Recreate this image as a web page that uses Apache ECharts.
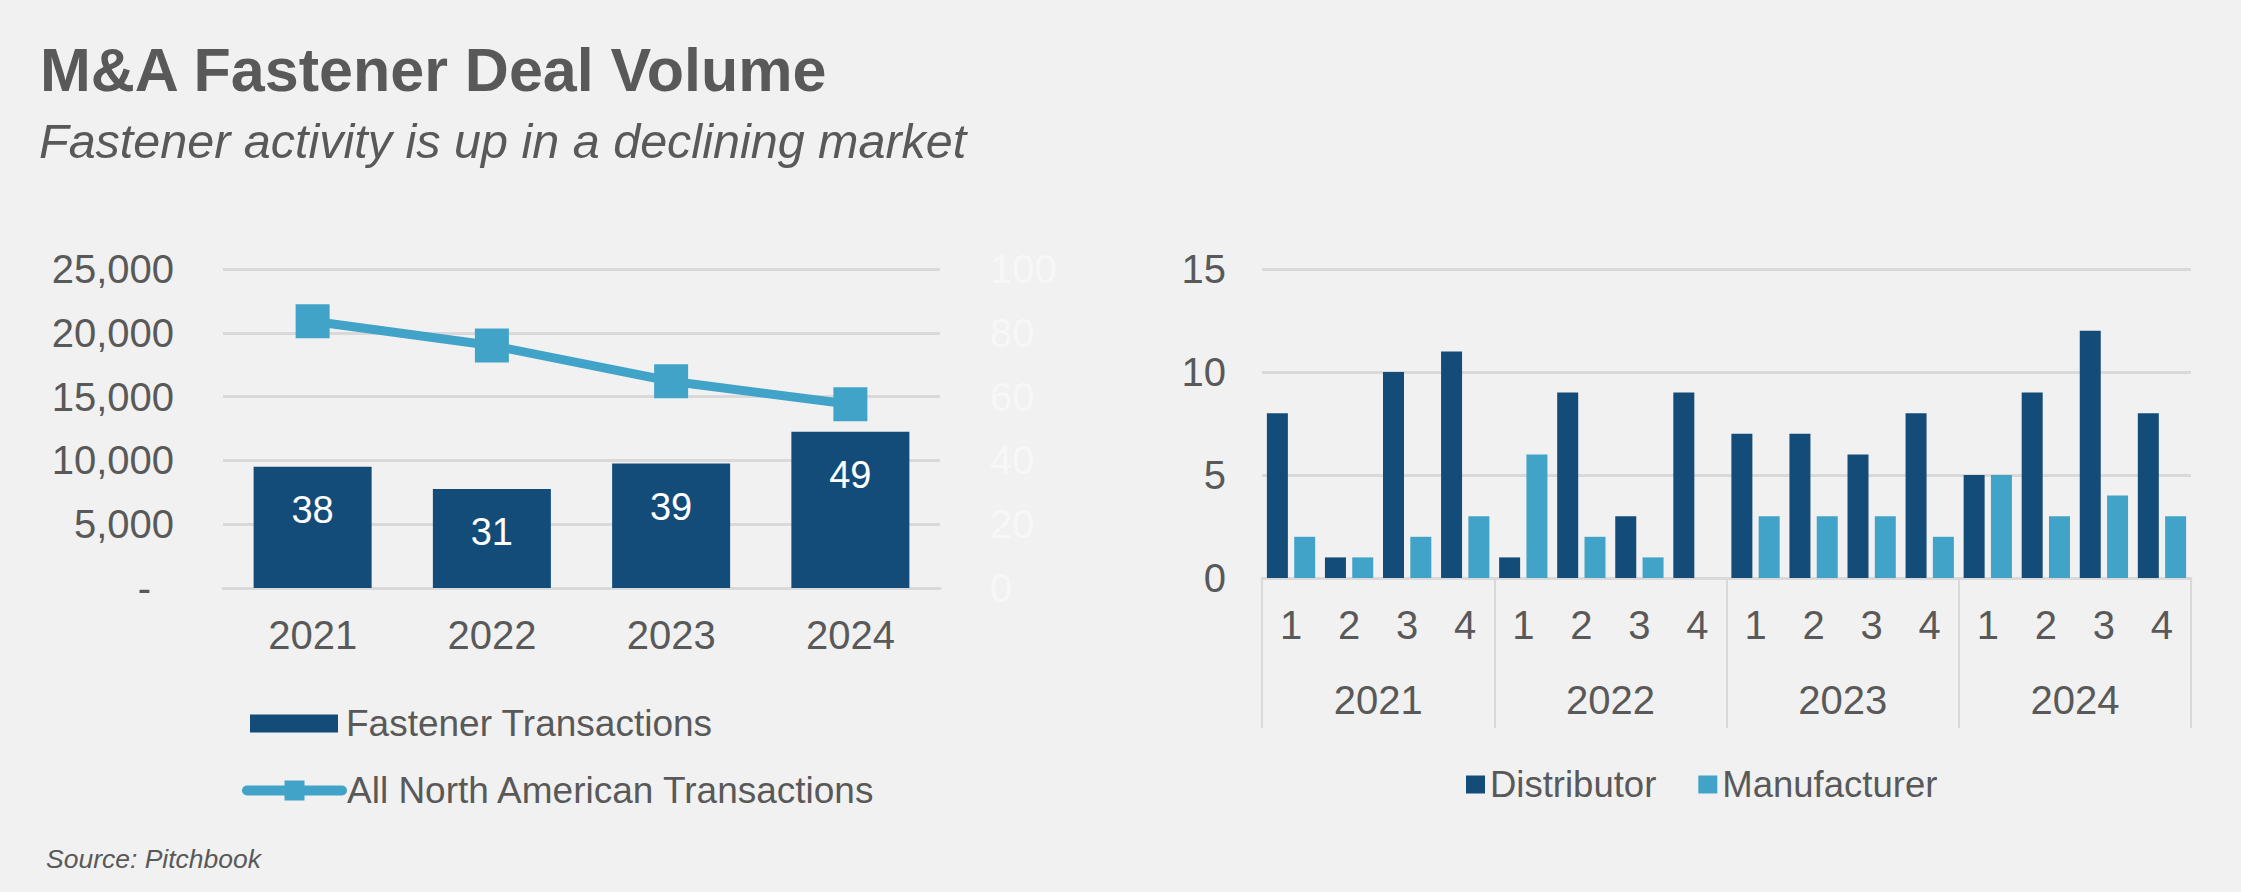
<!DOCTYPE html>
<html>
<head>
<meta charset="utf-8">
<script src="https://cdn.jsdelivr.net/npm/echarts@6/dist/echarts.min.js"></script>
<style>
html,body{margin:0;padding:0;background:#f1f1f1;}
#c{width:2241px;height:892px;}
</style>
</head>
<body>
<div id="c"></div>
<script>
// ---- data ----
const years = ['2021', '2022', '2023', '2024'];
const fastenerTransactions = [38, 31, 39, 49];
const allNorthAmerican = [20900, 19000, 16200, 14400];
const quarterKeys = ['2021-1','2021-2','2021-3','2021-4','2022-1','2022-2','2022-3','2022-4',
                     '2023-1','2023-2','2023-3','2023-4','2024-1','2024-2','2024-3','2024-4'];
const distributor = [8, 1, 10, 11, 1, 9, 3, 9, 7, 7, 6, 8, 5, 9, 12, 8];
const manufacturer = [2, 1, 2, 3, 6, 2, 1, 0, 3, 3, 3, 2, 5, 3, 4, 3];

const DARK = '#134c78';
const LIGHT = '#42a3c9';
const TXT = '#595959';
const GRID = '#d9d9d9';
const FONT = '"Liberation Sans", Arial, sans-serif';

const chart = echarts.init(document.getElementById('c'), null, {renderer: 'svg'});
chart.setOption({
  backgroundColor: '#f1f1f1',
  textStyle: {fontFamily: FONT, color: TXT},
  animation: false,
  title: [
    {text: 'M&A Fastener Deal Volume', left: 35, top: 34,
     textStyle: {fontFamily: FONT, fontSize: 61, fontWeight: 'bold', color: TXT}},
    {text: 'Fastener activity is up in a declining market', left: 34, top: 112,
     textStyle: {fontFamily: FONT, fontSize: 48.5, fontWeight: 'normal', fontStyle: 'italic', color: TXT}},
    {text: 'Source: Pitchbook', left: 41, top: 840,
     textStyle: {fontFamily: FONT, fontSize: 26.5, fontWeight: 'normal', fontStyle: 'italic', color: TXT}}
  ],
  legend: [
    {orient: 'vertical', left: 245, top: 700, itemWidth: 88, itemHeight: 18,
     textStyle: {fontFamily: FONT, fontSize: 37, color: TXT, padding: [0, 0, 0, 3]},
     data: [{name: 'Fastener Transactions', icon: 'rect'}]},
    {orient: 'vertical', left: 237, top: 767, itemWidth: 95, itemHeight: 25,
     textStyle: {fontFamily: FONT, fontSize: 37, color: TXT, padding: [0, 0, 0, 0]},
     lineStyle: {width: 10, cap: 'round'},
     data: [{name: 'All North American Transactions'}]},
    {orient: 'horizontal', left: 1461, top: 761, itemWidth: 19, itemHeight: 18, itemGap: 42,
     textStyle: {fontFamily: FONT, fontSize: 36.5, color: TXT},
     data: [{name: 'Distributor', icon: 'rect'}, {name: 'Manufacturer', icon: 'rect'}]}
  ],
  grid: [
    {left: 223, right: 1301, top: 269, bottom: 304},
    {left: 1262, right: 50, top: 269, bottom: 314}
  ],
  xAxis: [
    {type: 'category', gridIndex: 0, data: years,
     axisLine: {lineStyle: {color: GRID, width: 3}}, axisTick: {show: false},
     axisLabel: {fontFamily: FONT, fontSize: 40, color: TXT, margin: 27}},
    {type: 'category', gridIndex: 1, data: quarterKeys,
     axisLine: {lineStyle: {color: GRID, width: 3}}, axisTick: {show: false},
     axisLabel: {fontFamily: FONT, fontSize: 40, color: TXT, margin: 27, interval: 0,
                 formatter: v => v.split('-')[1]}},
    {type: 'category', gridIndex: 1, data: years, position: 'bottom',
     axisLine: {show: false},
     axisTick: {show: true, length: 150, interval: 0, lineStyle: {color: GRID, width: 2}},
     axisLabel: {fontFamily: FONT, fontSize: 40, color: TXT, margin: 102, interval: 0}}
  ],
  yAxis: [
    {type: 'value', gridIndex: 0, min: 0, max: 25000, interval: 5000,
     axisLine: {show: false}, axisTick: {show: false},
     splitLine: {lineStyle: {color: GRID, width: 3}},
     axisLabel: {fontFamily: FONT, fontSize: 40, color: TXT, margin: 49,
       formatter: v => v === 0 ? '{d|-}' : v.toLocaleString('en-US'),
       rich: {d: {fontFamily: FONT, fontSize: 40, color: TXT, padding: [0, 23, 0, 0]}}}},
    {type: 'value', gridIndex: 0, position: 'right', min: 0, max: 100, interval: 20,
     axisLine: {show: false}, axisTick: {show: false}, splitLine: {show: false},
     axisLabel: {fontFamily: FONT, fontSize: 40, color: '#f7f7f7', margin: 50}},
    {type: 'value', gridIndex: 1, min: 0, max: 15, interval: 5,
     axisLine: {show: false}, axisTick: {show: false},
     splitLine: {lineStyle: {color: GRID, width: 3}},
     axisLabel: {fontFamily: FONT, fontSize: 40, color: TXT, margin: 36}}
  ],
  series: [
    {name: 'Fastener Transactions', type: 'bar', xAxisIndex: 0, yAxisIndex: 1,
     data: fastenerTransactions, barWidth: 118, itemStyle: {color: DARK},
     label: {show: true, position: 'insideTop', distance: 24,
             fontFamily: FONT, fontSize: 38, color: '#ffffff'}},
    {name: 'All North American Transactions', type: 'line', xAxisIndex: 0, yAxisIndex: 0,
     data: allNorthAmerican, symbol: 'rect', symbolSize: 34, z: 5,
     lineStyle: {color: LIGHT, width: 9}, itemStyle: {color: LIGHT}},
    {name: 'Distributor', type: 'bar', xAxisIndex: 1, yAxisIndex: 2,
     data: distributor, barWidth: 21, barGap: '30%', itemStyle: {color: DARK}},
    {name: 'Manufacturer', type: 'bar', xAxisIndex: 1, yAxisIndex: 2,
     data: manufacturer, barWidth: 21, barGap: '30%', itemStyle: {color: LIGHT}}
  ]
});
</script>
</body>
</html>
